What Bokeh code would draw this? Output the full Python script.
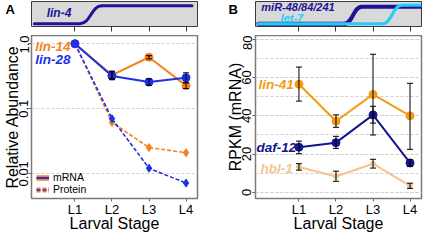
from bokeh.plotting import figure
from bokeh.models import (Range1d, FixedTicker, SingleIntervalTicker, Whisker, TeeHead,
                          ColumnDataSource, Legend, LegendItem, CustomLabelingPolicy)
from bokeh.layouts import row, column
from bokeh.core.properties import value
from bokeh.embed import file_html
from bokeh.resources import INLINE

FONT = "Liberation Sans"

# ---------------- data ----------------
stages = ["L1", "L2", "L3", "L4"]
stage_x = [1, 2, 3, 4]
x_lo, x_hi = -0.174, 4.31

# Panel A (relative abundance, log scale)
lin14_mrna = [1.0, 0.33, 0.62, 0.227]
lin14_mrna_lo = [0.29, 0.585, 0.205]     # L2..L4
lin14_mrna_hi = [0.38, 0.655, 0.25]
lin28_mrna = [1.0, 0.32, 0.258, 0.30]
lin28_mrna_lo = [0.28, 0.228, 0.254]
lin28_mrna_hi = [0.37, 0.288, 0.358]
lin14_protein = [1.0, 0.0617, 0.0253, 0.0211]
lin28_protein = [1.0, 0.0705, 0.0122, 0.0072]

# Panel B (RPKM)
lin41 = [56.5, 37.2, 51.2, 40.0]
lin41_lo = [47.7, 34.0, 30.0, 22.5]
lin41_hi = [65.5, 40.5, 72.2, 57.0]
daf12 = [23.6, 26.0, 40.5, 15.4]
daf12_lo = [20.2, 23.0, 36.2, 13.5]
daf12_hi = [26.8, 29.3, 45.0, 17.2]
hbl1 = [13.3, 8.3, 15.0, 3.4]
hbl1_lo = [11.6, 5.8, 12.7, 2.1]
hbl1_hi = [15.0, 11.1, 17.3, 4.8]

# schematic miRNA expression curves: [start, rise start, rise end, end], [low, high]
lin4_x = [-0.096, 1.13, 1.73, 4.16]
lin4_lv = [0.11, 0.83]
mir48_x = [-0.096, 2.22, 2.70, 4.28]
mir48_lv = [0.11, 0.79]
let7_x = [-0.096, 3.26, 3.78, 4.28]
let7_lv = [0.11, 0.85]

# colours
C_LIN14 = "#F5821F"
C_LIN28 = "#1F2FE8"
C_LIN41 = "#F29A12"
C_DAF12 = "#15158C"
C_HBL1 = "#F5C48E"
C_LIN4 = "#22129A"
C_MIR48 = "#1E1296"
C_LET7 = "#22CCF7"

FW = 166          # frame width (px)
BOX_H = 25        # schematic box height (px)
TOP_H = 1 + BOX_H + 8


def letter_fig(width, letter, letter_px):
    # narrow strip left of the schematic box that holds the panel letter
    p = figure(frame_width=width, frame_height=TOP_H, min_border=0,
               x_range=Range1d(0, width), y_range=Range1d(TOP_H, 0),
               x_axis_location=None, y_axis_location=None,
               toolbar_location=None, output_backend="svg")
    p.grid.visible = False
    p.outline_line_color = None
    p.background_fill_color = "white"
    p.border_fill_color = "white"
    p.text(x=[letter_px], y=[8], text=[letter], text_font=value(FONT),
           text_font_style="bold", text_font_size="13px",
           text_baseline="alphabetic", text_color="black")
    return p


def top_box(border_r):
    p = figure(frame_width=FW, frame_height=BOX_H, min_border_left=0,
               min_border_right=border_r, min_border_top=1, min_border_bottom=8,
               x_range=Range1d(x_lo, x_hi), y_range=Range1d(0, 1),
               y_axis_location=None,
               toolbar_location=None, output_backend="svg")
    p.background_fill_color = "#D9D9D9"
    p.border_fill_color = "white"
    p.outline_line_color = "#3a3a3a"
    p.outline_line_width = 1
    p.grid.visible = False
    ax = p.xaxis[0]
    ax.ticker = FixedTicker(ticks=stage_x)
    ax.major_label_policy = CustomLabelingPolicy(
        code="for (const i of indices) indices.unset(i)")
    ax.major_label_text_font_size = "1px"
    ax.major_label_standoff = 0
    ax.axis_line_color = None
    ax.major_tick_out = 5
    ax.major_tick_in = 0
    ax.major_tick_line_color = "#333333"
    ax.minor_tick_line_color = None
    return p


def curve(p, xs, lv, color, width):
    x0, xr0, xr1, x3 = xs
    lo, hi = lv
    mid = (xr0 + xr1) / 2
    p.line([x0, xr0], [lo, lo], line_color=color, line_width=width, line_cap="round")
    p.bezier(x0=[xr0], y0=[lo], x1=[xr1], y1=[hi], cx0=[mid], cy0=[lo], cx1=[mid], cy1=[hi],
             line_color=color, line_width=width)
    p.line([xr1, x3], [hi, hi], line_color=color, line_width=width, line_cap="round")


def style_main(p, ylabel):
    p.background_fill_color = "white"
    p.border_fill_color = "white"
    p.outline_line_color = "#7a7a7a"
    p.outline_line_width = 1.5
    for ax in (p.xaxis[0], p.yaxis[0]):
        ax.axis_line_color = None
        ax.major_tick_line_color = "#666666"
        ax.major_tick_out = 3
        ax.major_tick_in = 0
        ax.minor_tick_line_color = None
        ax.major_label_text_font = FONT
        ax.major_label_text_font_size = "13px"
        ax.major_label_text_color = "black"
        ax.major_label_standoff = 0
        ax.axis_label_text_font = FONT
        ax.axis_label_text_font_style = "normal"
        ax.axis_label_text_color = "black"
        ax.axis_label_standoff = -4
    p.xaxis.ticker = FixedTicker(ticks=stage_x)
    p.xaxis.major_label_overrides = {x: s for x, s in zip(stage_x, stages)}
    p.xaxis.axis_label = "Larval Stage"
    p.xaxis.axis_label_text_font_size = "16px"
    p.xaxis.axis_label_standoff = -5
    p.yaxis.axis_label = ylabel
    p.yaxis.axis_label_text_font_size = "16px"
    p.yaxis.major_label_orientation = "vertical"
    p.xgrid.visible = False
    p.ygrid.grid_line_color = "#d0d0d0"
    p.ygrid.grid_line_dash = "3 2"
    p.ygrid.grid_line_width = 1


def whiskers(p, xs, lo, hi):
    src = ColumnDataSource(dict(x=xs, lo=lo, hi=hi))
    w = Whisker(source=src, base="x", lower="lo", upper="hi", line_color="black", line_width=1,
                upper_head=TeeHead(size=6, line_color="black", line_width=1),
                lower_head=TeeHead(size=6, line_color="black", line_width=1),
                level="annotation")
    p.add_layout(w)


def gene_labels(p, xs, ys, texts, colors):
    p.text(x=xs, y=ys, text=texts, text_color=colors, text_font=value(FONT),
           text_font_style="bold italic", text_font_size="13.5px",
           text_align="left", text_baseline="middle")


MAIN_KW = dict(frame_width=FW, frame_height=163, min_border_top=0, min_border_bottom=32,
               x_range=Range1d(x_lo, x_hi), toolbar_location=None, output_backend="svg")

# ---------------- Panel A ----------------
let_a = letter_fig(31, "A", 5)
top_a = top_box(15)
curve(top_a, lin4_x, lin4_lv, C_LIN4, 3)
top_a.text(x=[0.235], y=[0.55], text=["lin-4"], text_color=C_LIN4, text_font=value(FONT),
           text_font_style="bold italic", text_font_size="12px", text_baseline="middle")

pa = figure(min_border_left=31, min_border_right=15,
            y_range=Range1d(0.00417, 1.34), y_axis_type="log", **MAIN_KW)
# off-screen range: legend swatch renderers live here so they never show in the plot
pa.extra_y_ranges = {"swatch": Range1d(1e3, 1e4)}
style_main(pa, "Relative Abundance")
pa.yaxis.ticker = FixedTicker(ticks=[0.01, 0.1, 1.0])
pa.yaxis.major_label_overrides = {0.01: "0.01", 0.1: "0.1", 1.0: "1.0"}

r14p = pa.line(stage_x, lin14_protein, line_color=C_LIN14, line_width=1.6, line_dash="4 2")
pa.scatter(stage_x, lin14_protein, marker="diamond", size=8, color=C_LIN14)
r28p = pa.line(stage_x, lin28_protein, line_color=C_LIN28, line_width=1.6, line_dash="4 2")
pa.scatter(stage_x, lin28_protein, marker="diamond", size=8, color=C_LIN28)
r14m = pa.line(stage_x, lin14_mrna, line_color=C_LIN14, line_width=2)
pa.scatter(stage_x, lin14_mrna, size=8, color=C_LIN14)
r28m = pa.line(stage_x, lin28_mrna, line_color=C_LIN28, line_width=2)
pa.scatter(stage_x, lin28_mrna, size=8, color=C_LIN28)
whiskers(pa, stage_x[1:], lin14_mrna_lo, lin14_mrna_hi)
whiskers(pa, stage_x[1:], lin28_mrna_lo, lin28_mrna_hi)
gene_labels(pa, [-0.07, -0.07], [0.907, 0.576], ["lin-14", "lin-28"], [C_LIN14, C_LIN28])

# legend swatches: wide orange under narrow blue, so both colours show
sw14m = pa.line(stage_x, lin14_mrna, line_color=C_LIN14, line_width=5.5, y_range_name="swatch")
sw14p = pa.line(stage_x, lin14_protein, line_color=C_LIN14, line_width=5, line_dash="4 2",
                y_range_name="swatch")
legend = Legend(items=[LegendItem(label="mRNA", renderers=[sw14m, r28m]),
                       LegendItem(label="Protein", renderers=[sw14p, r28p])],
                location=(5, 3), padding=0, margin=0, spacing=0, glyph_width=13,
                glyph_height=11, label_height=11, label_standoff=4,
                label_text_font=FONT, label_text_font_size="10.5px",
                background_fill_alpha=0, border_line_color=None, label_text_color="black")
pa.add_layout(legend)

# ---------------- Panel B ----------------
let_b = letter_fig(43, "B", 16)
top_b = top_box(3)
curve(top_b, mir48_x, mir48_lv, C_MIR48, 4)
curve(top_b, let7_x, let7_lv, C_LET7, 3)
top_b.text(x=[-0.017, 0.504], y=[0.80, 0.36], text=["miR-48/84/241", "let-7"],
           text_color=[C_MIR48, C_LET7], text_font=value(FONT),
           text_font_style="bold italic", text_font_size="11px", text_baseline="middle")

pb = figure(min_border_left=43, min_border_right=3, y_range=Range1d(-3.2, 82), **MAIN_KW)
style_main(pb, "RPKM (mRNA)")
pb.yaxis.ticker = SingleIntervalTicker(interval=20, num_minor_ticks=2)
pb.ygrid.minor_grid_line_color = "#d0d0d0"
pb.ygrid.minor_grid_line_dash = "3 2"

pb.line(stage_x, hbl1, line_color=C_HBL1, line_width=2)
pb.scatter(stage_x, hbl1, size=5, color=C_HBL1)
pb.line(stage_x, lin41, line_color=C_LIN41, line_width=2)
pb.scatter(stage_x, lin41, size=8, color=C_LIN41)
pb.line(stage_x, daf12, line_color=C_DAF12, line_width=2)
pb.scatter(stage_x, daf12, size=8, color=C_DAF12)
whiskers(pb, stage_x, hbl1_lo, hbl1_hi)
whiskers(pb, stage_x, lin41_lo, lin41_hi)
whiskers(pb, stage_x, daf12_lo, daf12_hi)
gene_labels(pb, [-0.09, -0.15, -0.04], [56.5, 23.5, 12.4], ["lin-41", "daf-12", "hbl-1"],
            [C_LIN41, C_DAF12, C_HBL1])

layout = row(column(row(let_a, top_a), pa), column(row(let_b, top_b), pb))
open("out.html", "w").write(file_html(layout, INLINE))
